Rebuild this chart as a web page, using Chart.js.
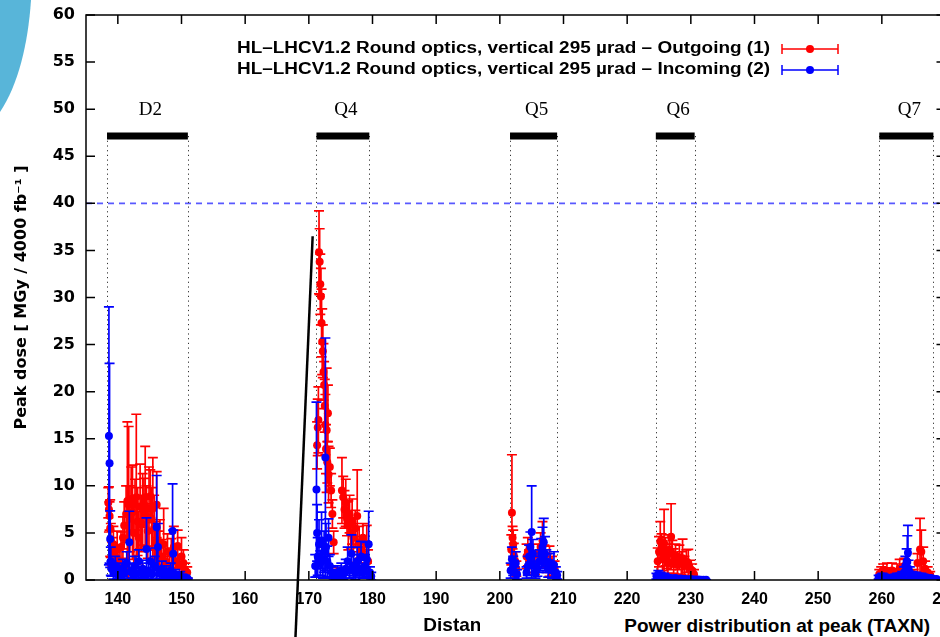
<!DOCTYPE html>
<html>
<head>
<meta charset="utf-8">
<script src="https://cdn.jsdelivr.net/npm/chart.js@4.4.1/dist/chart.umd.min.js"></script>
<style>
  html, body { margin: 0; padding: 0; background: #fff; overflow: hidden; }
  #wrap { position: absolute; left: 0; top: 0; width: 990px; height: 637px; }
  #deco { position: absolute; left: 0; top: 0; }
  #note {
    position: absolute; left: 480px; top: 609px; width: 460px; height: 28px; overflow: hidden;
    background: #fff; color: #000; box-sizing: border-box; padding-right: 10px;
    font: bold 19px "Liberation Sans", Arial, sans-serif; line-height: 34px; text-align: right;
  }
</style>
</head>
<body>
<div id="wrap"><canvas id="doseChart"></canvas></div>
<svg id="deco" width="40" height="120"><path d="M0 0 L31 0 C28 45 18 85 0 112 Z" fill="#58b5d9"/></svg>
<div id="note">Power distribution at peak (TAXN)</div>
<script>
// series names (gnuplot key)
const seriesNames = [
  "HL\u2013LHCV1.2 Round optics, vertical 295 \u00b5rad \u2013 Outgoing (1)",
  "HL\u2013LHCV1.2 Round optics, vertical 295 \u00b5rad \u2013 Incoming (2)"
];

// axis ticks
const xTicks = [140, 150, 160, 170, 180, 190, 200, 210, 220, 230, 240, 250, 260, 270];
const yTicks = [0, 5, 10, 15, 20, 25, 30, 35, 40, 45, 50, 55, 60];

// magnet positions [m]
const magnetNames = ["D2", "Q4", "Q5", "Q6", "Q7"];
const magnetStart = [138.3, 171.2, 201.6, 224.5, 259.6];
const magnetEnd   = [151.0, 179.5, 209.0, 230.6, 268.1];
const magnetBarLevel = 47.15;
const magnetLabelLevel = 49.9;
const doseLimit = 40;

// Outgoing (1): position, peak dose, error
const outX = [
  138.5, 138.6, 138.7, 138.8, 138.9, 139.1, 139.3, 139.6, 139.9, 140.2, 140.5, 140.8, 141.0, 141.3,
  141.5, 141.7, 141.9, 142.1, 142.3, 142.5, 142.7, 142.9, 143.1, 143.3, 143.5, 143.7, 143.9, 144.1,
  144.3, 144.5, 144.7, 144.9, 145.1, 145.3, 145.5, 145.7, 145.9, 146.1, 146.3, 146.6, 146.9, 147.2,
  147.5, 147.8, 148.1, 148.4, 148.8, 149.1, 149.4, 149.7, 150.0, 150.3, 150.6, 150.9,
  171.3, 171.4, 171.5, 171.6, 171.7, 171.8, 171.9, 172.0, 172.1, 172.2, 172.3, 172.4, 172.5, 172.6,
  172.7, 172.8, 172.9, 173.0, 173.1, 173.3, 173.5, 173.7, 173.9, 174.4, 175.2, 175.4, 175.6, 175.8,
  176.0, 176.2, 176.4, 176.6, 176.8, 177.0, 177.3, 177.6, 177.9, 178.2, 178.5, 178.8, 179.1, 179.3,
  201.8, 201.9, 202.0, 202.1, 202.2, 202.4, 202.6, 204.2, 204.4, 204.6, 205.0, 205.5, 206.0, 206.4,
  206.7, 207.0, 207.4, 207.8, 208.2, 208.6,
  224.8, 225.0, 225.2, 225.4, 225.6, 225.8, 226.0, 226.2, 226.4, 226.6, 226.9, 227.1, 227.3, 227.6,
  227.9, 228.2, 228.5, 228.7, 229.0, 229.3, 229.6, 229.9, 230.2, 230.5,
  259.6, 259.9, 260.2, 260.5, 260.8, 261.2, 261.6, 262.0, 262.4, 262.8, 263.2, 263.5, 264.0, 264.5,
  265.0, 265.6, 266.0, 266.2, 266.5, 266.8, 267.2, 267.6
];
const outY = [
  8.2, 7.5, 6.8, 5.5, 4.2, 3.0, 3.8, 2.5, 3.2, 2.0, 3.5, 4.5, 5.8, 7.0,
  8.4, 8.0, 6.5, 8.6, 7.2, 5.0, 8.0, 8.8, 6.2, 4.5, 7.8, 6.0, 7.5, 8.2,
  8.8, 6.8, 5.2, 7.6, 8.9, 6.5, 7.6, 5.5, 4.0, 8.0, 3.2, 4.0, 2.5, 3.8,
  2.0, 3.0, 1.5, 2.8, 3.5, 2.0, 3.6, 1.5, 2.5, 1.8, 1.0, 0.8,
  14.3, 16.2, 17.0, 34.8, 33.8, 31.4, 30.1, 27.3, 25.3, 24.3, 22.1, 20.7, 18.5, 16.5,
  13.9, 15.9, 12.5, 17.7, 11.2, 12.0, 9.5, 7.0, 4.0, 0.8, 9.5, 8.8, 7.5, 8.2,
  6.5, 5.8, 7.0, 5.0, 6.2, 4.5, 5.5, 6.8, 4.0, 3.2, 4.5, 2.5, 3.8, 2.0,
  3.2, 7.15, 4.5, 3.8, 2.6, 2.0, 1.2, 2.5, 3.0, 2.0, 2.2, 1.5, 2.8, 3.5,
  4.2, 2.5, 1.8, 2.0, 1.5, 1.2,
  2.0, 3.0, 4.1, 3.5, 2.2, 3.9, 3.0, 2.5, 1.8, 3.2, 4.6, 2.8, 2.0, 2.6,
  1.6, 2.4, 1.8, 2.3, 1.5, 2.0, 1.8, 1.2, 1.0, 0.6,
  0.6, 0.8, 1.0, 0.5, 0.9, 0.7, 1.0, 0.6, 0.9, 1.2, 0.8, 1.5, 0.5, 0.4,
  0.6, 1.8, 3.25, 3.0, 2.0, 1.2, 0.8, 0.5
];
const outErr = [
  1.6, 2.4, 1.5, 3.0, 1.8, 1.5, 1.9, 1.2, 2.0, 1.4, 1.6, 2.2, 2.5, 3.0,
  8.4, 8.3, 3.5, 3.4, 5.0, 3.3, 2.7, 8.8, 3.6, 2.8, 4.5, 3.0, 3.8, 2.6,
  5.4, 3.2, 2.9, 4.4, 2.8, 3.3, 5.4, 3.5, 2.2, 3.5, 2.0, 2.4, 1.8, 3.8,
  1.4, 1.9, 1.0, 1.6, 2.2, 1.6, 1.7, 1.2, 2.0, 1.4, 0.8, 0.6,
  2.5, 3.0, 3.5, 4.4, 3.5, 3.2, 3.0, 3.6, 3.5, 2.8, 3.0, 2.5, 2.8, 3.2,
  2.6, 6.6, 2.2, 3.0, 3.0, 2.0, 1.8, 1.5, 1.2, 0.5, 3.5, 2.2, 2.0, 2.5,
  1.8, 2.6, 2.0, 1.6, 2.4, 1.5, 1.9, 4.9, 1.7, 1.4, 1.5, 1.3, 2.0, 1.2,
  1.6, 6.15, 1.2, 1.5, 1.3, 1.0, 0.8, 1.3, 1.5, 1.2, 0.9, 0.9, 1.0, 1.5,
  2.0, 1.2, 1.0, 1.6, 1.0, 0.8,
  1.4, 1.6, 2.1, 1.4, 1.2, 3.6, 1.5, 1.3, 1.1, 1.6, 3.5, 1.4, 1.3, 1.2,
  1.0, 1.3, 1.2, 2.05, 1.0, 1.2, 1.45, 0.9, 0.7, 0.5,
  0.5, 0.6, 0.7, 0.5, 0.9, 0.6, 0.8, 0.5, 0.8, 1.0, 0.6, 0.8, 0.4, 0.4,
  0.5, 1.0, 3.3, 2.3, 1.5, 0.8, 0.6, 0.4
];

// Incoming (2): position, peak dose, error
const inX = [
  138.6, 138.7, 138.8, 138.9, 139.0, 139.3, 139.6, 139.9, 140.2, 140.5, 140.8, 141.1, 141.4, 141.8,
  142.1, 142.4, 142.7, 143.0, 143.3, 143.6, 143.9, 144.2, 144.5, 144.8, 145.1, 145.4, 145.8, 146.1,
  146.3, 146.6, 146.9, 147.2, 147.6, 148.0, 148.3, 148.6, 148.7, 149.0, 149.4, 149.8, 150.2, 150.6, 151.0,
  171.0, 171.2, 171.3, 171.4, 171.6, 171.8, 172.0, 172.2, 172.4, 172.6, 172.7, 172.9, 173.1, 173.3,
  173.6, 173.9, 174.2, 174.5, 174.8, 175.1, 175.4, 175.8, 176.1, 176.4, 176.7, 177.0, 177.3, 177.6,
  177.9, 178.2, 178.5, 178.8, 179.1, 179.4, 179.6, 179.8,
  201.7, 201.9, 202.1, 202.3, 202.5, 202.7, 204.2, 204.4, 204.6, 204.8, 205.0, 205.2, 205.4, 205.6,
  205.9, 206.2, 206.5, 206.7, 206.9, 207.1, 207.3, 207.6, 207.9, 208.2, 208.5, 208.8, 209.0,
  224.6, 224.9, 225.2, 225.5, 225.8, 226.1, 226.4, 226.8, 227.2, 227.6, 228.0, 228.4, 228.8, 229.2,
  229.6, 230.0, 230.4, 230.8, 231.2, 231.6, 232.0, 232.4,
  259.5, 259.8, 260.1, 260.4, 260.8, 261.2, 261.6, 262.0, 262.4, 262.8, 263.2, 263.5, 263.7, 263.9,
  264.0, 264.1, 264.2, 264.4, 264.7, 265.0, 265.4, 265.8, 266.2, 266.6, 267.0, 267.4, 267.8, 268.2, 268.6
];
const inY = [
  15.3, 12.4, 4.35, 2.0, 1.2, 0.8, 1.5, 0.6, 1.0, 0.5, 1.3, 0.8, 1.8, 4.0,
  1.0, 0.5, 1.5, 0.7, 2.0, 0.8, 1.2, 0.5, 3.3, 1.0, 2.0, 0.6, 1.5, 5.6,
  3.5, 0.8, 1.2, 0.5, 0.9, 0.4, 1.0, 5.2, 2.8, 0.6, 0.3, 0.5, 0.2, 0.3, 0.1,
  1.5, 9.6, 5.0, 2.5, 3.8, 1.8, 4.2, 2.2, 3.0, 13.0, 3.5, 2.0, 4.5, 1.5,
  0.8, 0.5, 0.6, 0.8, 0.5, 1.0, 0.6, 1.2, 2.0, 1.0, 2.8, 1.5, 0.8, 2.0,
  1.2, 2.5, 0.8, 1.5, 2.2, 3.8, 0.8, 0.4,
  1.0, 2.2, 1.5, 0.8, 1.8, 0.6, 0.8, 1.5, 2.5, 3.5, 5.1, 2.8, 1.5, 0.8,
  1.2, 2.0, 2.8, 3.5, 4.0, 2.8, 2.0, 1.2, 1.8, 1.0, 1.6, 0.8, 0.5,
  0.4, 0.6, 0.5, 0.3, 0.4, 0.2, 0.3, 0.2, 0.15, 0.2, 0.1, 0.15, 0.1, 0.1,
  0.05, 0.1, 0.05, 0.05, 0.05, 0.02, 0.02, 0.02,
  0.3, 0.2, 0.4, 0.2, 0.3, 0.2, 0.3, 0.2, 0.4, 0.3, 0.5, 0.8, 1.5, 2.0,
  1.9, 2.9, 1.2, 0.8, 0.5, 0.3, 0.5, 0.3, 0.4, 0.2, 0.3, 0.2, 0.2, 0.1, 0.1
];
const inErr = [
  13.7, 10.6, 3.0, 1.5, 0.8, 0.7, 1.0, 0.5, 0.8, 0.4, 0.9, 0.6, 1.2, 3.3,
  0.8, 0.5, 1.0, 0.6, 1.2, 0.6, 0.9, 0.4, 3.3, 0.8, 1.4, 0.5, 1.0, 5.5,
  2.5, 0.6, 0.8, 0.4, 0.6, 0.3, 0.8, 5.0, 2.5, 0.5, 0.3, 0.4, 0.2, 0.2, 0.1,
  1.2, 9.3, 3.0, 2.0, 2.6, 1.3, 3.0, 2.0, 2.2, 12.7, 2.5, 1.6, 2.0, 1.2,
  0.6, 0.5, 0.5, 0.7, 0.4, 0.8, 0.5, 1.0, 1.5, 0.8, 2.0, 1.2, 0.7, 1.5,
  0.9, 1.6, 0.6, 1.2, 1.8, 3.5, 0.6, 0.4,
  0.8, 1.3, 1.0, 0.6, 1.2, 0.5, 0.6, 1.0, 1.2, 1.6, 4.9, 1.5, 1.0, 0.6,
  0.8, 1.2, 1.6, 2.1, 2.55, 1.8, 1.2, 0.9, 1.0, 0.8, 1.4, 0.6, 0.4,
  0.3, 0.4, 0.3, 0.2, 0.3, 0.2, 0.2, 0.1, 0.1, 0.1, 0.1, 0.1, 0.1, 0.1,
  0.05, 0.1, 0.05, 0.05, 0.05, 0.02, 0.02, 0.02,
  0.2, 0.2, 0.3, 0.2, 0.2, 0.2, 0.2, 0.2, 0.3, 0.2, 0.4, 0.6, 1.0, 1.3,
  2.8, 2.9, 0.9, 0.6, 0.4, 0.3, 0.3, 0.2, 0.3, 0.2, 0.2, 0.2, 0.1, 0.1, 0.1
];

// hand-drawn marker line on the slide, in data units
const markerFrom = [170.6, 36.5];
const markerTo = [167.9, -6.1];

function toPoints(xs, ys, errs) {
  return xs.map((x, i) => ({ x: x, y: ys[i], err: errs[i] }));
}

const sansBold = "'Liberation Sans', Arial, sans-serif";
const wideBold = "'DejaVu Sans', Verdana, sans-serif";

// error bars drawn just before each dataset's points
const errorBars = {
  id: 'errorBars',
  beforeDatasetDraw(chart, args) {
    const ds = chart.data.datasets[args.index];
    const a = chart.chartArea;
    const y = chart.scales.y;
    const ctx = chart.ctx;
    ctx.save();
    ctx.beginPath();
    ctx.rect(a.left, a.top, a.right - a.left, a.bottom - a.top);
    ctx.clip();
    ctx.strokeStyle = ds.backgroundColor;
    ctx.lineWidth = 1.7;
    ds.data.forEach((p, i) => {
      const px = args.meta.data[i].x;
      const lo = y.getPixelForValue(p.y - p.err);
      const hi = y.getPixelForValue(p.y + p.err);
      ctx.beginPath();
      ctx.moveTo(px, lo); ctx.lineTo(px, hi);
      ctx.moveTo(px - 5, lo); ctx.lineTo(px + 5, lo);
      ctx.moveTo(px - 5, hi); ctx.lineTo(px + 5, hi);
      ctx.stroke();
    });
    ctx.restore();
  }
};

// magnet boxes, labels and the 40 MGy limit
const magnets = {
  id: 'magnets',
  beforeDatasetsDraw(chart) {
    const { ctx, chartArea: a, scales: { x, y } } = chart;
    ctx.save();
    const limitY = y.getPixelForValue(doseLimit);
    ctx.strokeStyle = 'rgba(60,60,255,0.85)';
    ctx.lineWidth = 1.6;
    ctx.setLineDash([6, 5]);
    ctx.beginPath();
    ctx.moveTo(a.left, limitY);
    ctx.lineTo(a.right, limitY);
    ctx.stroke();

    const barY = y.getPixelForValue(magnetBarLevel);
    ctx.strokeStyle = '#333';
    ctx.lineWidth = 1;
    ctx.setLineDash([1.2, 3.5]);
    magnetNames.forEach((name, i) => {
      [magnetStart[i], magnetEnd[i]].forEach(v => {
        const px = Math.round(x.getPixelForValue(v)) + 0.5;
        ctx.beginPath();
        ctx.moveTo(px, barY);
        ctx.lineTo(px, a.bottom);
        ctx.stroke();
      });
    });
    ctx.setLineDash([]);
    ctx.fillStyle = '#000';
    ctx.font = "19px 'Liberation Serif', 'DejaVu Serif', serif";
    ctx.textAlign = 'center';
    ctx.textBaseline = 'middle';
    magnetNames.forEach((name, i) => {
      const x0 = x.getPixelForValue(magnetStart[i]);
      const x1 = x.getPixelForValue(magnetEnd[i]);
      ctx.fillRect(x0, barY - 3.5, x1 - x0, 7);
      ctx.fillText(name, (x0 + x1) / 2 + 3, y.getPixelForValue(magnetLabelLevel));
    });
    ctx.restore();
  }
};

// gnuplot style frame with inward ticks, key and slide marker
const frame = {
  id: 'frame',
  afterDraw(chart) {
    const { ctx, chartArea: a, scales: { x, y } } = chart;
    ctx.save();
    ctx.strokeStyle = '#000';
    ctx.lineWidth = 1.5;
    ctx.strokeRect(a.left, a.top, a.right - a.left, a.bottom - a.top);
    ctx.beginPath();
    xTicks.forEach(v => {
      const px = x.getPixelForValue(v);
      ctx.moveTo(px, a.bottom); ctx.lineTo(px, a.bottom - 9);
      ctx.moveTo(px, a.top); ctx.lineTo(px, a.top + 9);
    });
    yTicks.forEach(v => {
      const py = y.getPixelForValue(v);
      ctx.moveTo(a.left, py); ctx.lineTo(a.left + 9, py);
      ctx.moveTo(a.right, py); ctx.lineTo(a.right - 9, py);
    });
    ctx.stroke();

    // key, text stretched to the width of the original key
    const colors = ['#ff0000', '#0000ff'];
    const rows = [49, 70];
    ctx.font = "bold 16px " + sansBold;
    ctx.textBaseline = 'middle';
    seriesNames.forEach((name, i) => {
      const ry = rows[i];
      const w = ctx.measureText(name).width;
      ctx.save();
      ctx.translate(770, ry);
      ctx.scale(533 / w, 1);
      ctx.textAlign = 'right';
      ctx.fillStyle = '#000';
      ctx.fillText(name, 0, 0);
      ctx.restore();
      ctx.strokeStyle = colors[i];
      ctx.lineWidth = 1.5;
      ctx.beginPath();
      ctx.moveTo(782, ry); ctx.lineTo(838, ry);
      ctx.moveTo(782, ry - 5); ctx.lineTo(782, ry + 5);
      ctx.moveTo(838, ry - 5); ctx.lineTo(838, ry + 5);
      ctx.stroke();
      ctx.fillStyle = colors[i];
      ctx.beginPath();
      ctx.arc(810, ry, 4, 0, Math.PI * 2);
      ctx.fill();
    });

    // marker line drawn over the slide
    ctx.strokeStyle = '#000';
    ctx.lineWidth = 2.5;
    ctx.beginPath();
    ctx.moveTo(x.getPixelForValue(markerFrom[0]), y.getPixelForValue(markerFrom[1]));
    ctx.lineTo(x.getPixelForValue(markerTo[0]), y.getPixelForValue(markerTo[1]));
    ctx.stroke();
    ctx.restore();
  }
};

new Chart(document.getElementById('doseChart'), {
  type: 'scatter',
  data: {
    datasets: [
      { label: seriesNames[1], data: toPoints(inX, inY, inErr), backgroundColor: '#0000ff',
        pointRadius: 4, pointBorderWidth: 0, order: 1 },
      { label: seriesNames[0], data: toPoints(outX, outY, outErr), backgroundColor: '#ff0000',
        pointRadius: 4, pointBorderWidth: 0, order: 2 }
    ]
  },
  options: {
    responsive: true,
    maintainAspectRatio: false,
    animation: false,
    layout: { padding: { top: 15, right: 44.5, left: 0, bottom: 0 } },
    plugins: { legend: { display: false }, tooltip: { enabled: false } },
    scales: {
      x: {
        type: 'linear', min: 135, max: 270,
        afterBuildTicks: s => { s.ticks = xTicks.map(v => ({ value: v })); },
        afterFit: s => { s.height = 57; },
        grid: { display: false, drawTicks: false },
        border: { display: false },
        ticks: { color: '#000', font: { family: sansBold, size: 16, weight: 'bold' }, padding: 10, maxRotation: 0, autoSkip: false },
        title: { display: true, text: 'Distance from IP [m]', color: '#000',
          font: { family: sansBold, size: 19, weight: 'bold' },
          padding: { top: 0, bottom: 0 } }
      },
      y: {
        min: 0, max: 60,
        afterBuildTicks: s => { s.ticks = yTicks.map(v => ({ value: v })); },
        afterFit: s => { s.width = 86; s.paddingTop = 0; s.paddingBottom = 0; },
        grid: { display: false, drawTicks: false },
        border: { display: false },
        ticks: { color: '#000', font: { family: wideBold, size: 16, weight: 'bold' }, padding: 11 },
        title: { display: true, text: 'Peak dose [ MGy / 4000 fb\u207b\u00b9 ]', color: '#000',
          font: { family: wideBold, size: 16, weight: 'bold' },
          padding: { top: 12.4, bottom: 0 } }
      }
    }
  },
  plugins: [errorBars, magnets, frame]
});
</script>
</body>
</html>
